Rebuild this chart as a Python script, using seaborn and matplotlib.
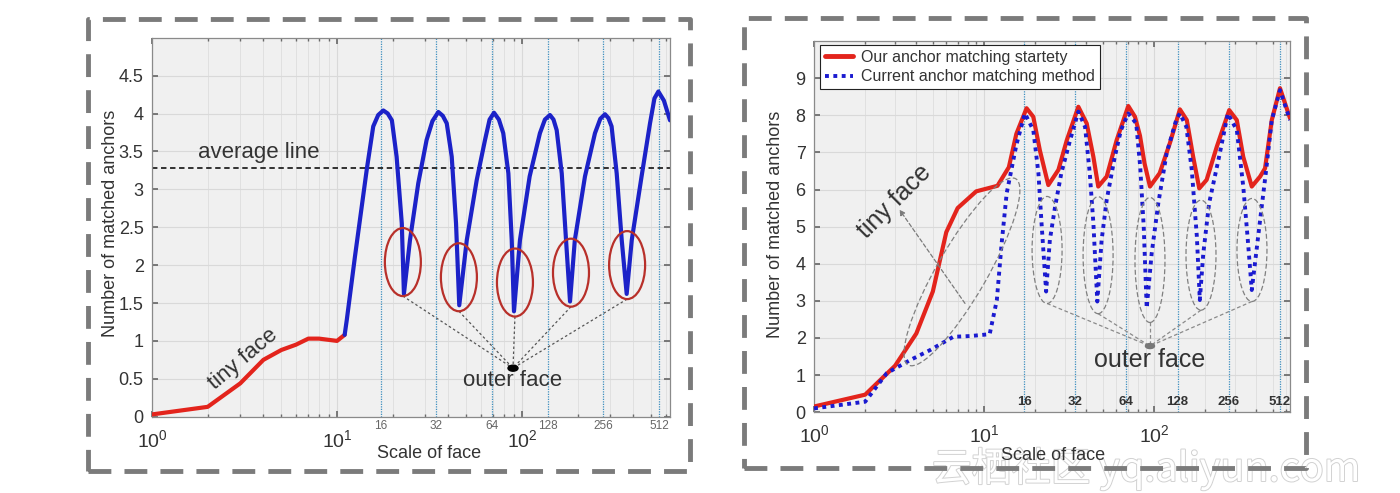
import numpy as np
import matplotlib
matplotlib.use("Agg")
import matplotlib.pyplot as plt
import matplotlib.transforms as mtransforms
import matplotlib.patheffects as pe
from matplotlib.patches import Ellipse, Rectangle
from matplotlib.lines import Line2D
from matplotlib.ticker import FixedLocator, LogLocator, NullFormatter
import seaborn as sns

# ---------------- data ----------------
# left panel: tiny-face segment (red) and the rest (blue)
left_tiny_x = [1, 2, 3, 4, 5, 6, 7, 8, 10, 11]
left_tiny_y = [0.03, 0.13, 0.44, 0.75, 0.88, 0.95, 1.03, 1.03, 1.00, 1.08]
left_main_x = [11, 11.3, 12.5, 14.5, 15.7, 16.7, 17.8, 18.8, 19.8, 21.0, 22.4, 23.0,
               24.8, 27.5, 30.5, 32.8, 35.3, 37.3, 39.2, 41.7, 44, 45.8, 50.3, 56.9,
               63.1, 66.8, 70.6, 75, 79.2, 84.4, 88, 90.5, 97.5, 110, 125, 133, 141.6,
               148, 154, 164, 173, 181.8, 193, 219, 248, 265, 281, 293, 305, 325,
               346, 368, 392, 443, 492, 520, 546, 585, 631]
left_main_y = [1.08, 1.28, 2.11, 3.27, 3.83, 3.98, 4.04, 4.0, 3.91, 3.43, 2.55, 1.62,
               2.33, 3.08, 3.65, 3.9, 4.02, 3.97, 3.87, 3.43, 2.55, 1.47, 2.33, 3.12,
               3.65, 3.92, 4.01, 3.92, 3.74, 3.21, 2.33, 1.39, 2.33, 3.17, 3.74, 3.92, 3.98,
               3.92, 3.78, 3.21, 2.33, 1.52, 2.33, 3.17, 3.74, 3.93, 3.99, 3.94, 3.83, 3.21,
               2.33, 1.62, 2.33, 3.17, 3.87, 4.2, 4.29, 4.17, 3.91]
average_value = 3.28

# right panel
ours_x = [1, 2, 3, 4, 5, 6, 7, 9, 12, 14,
          15.5, 17.8, 19.5, 21.3, 23.9, 27.4, 30.7, 35.9, 40.2, 44,
          47, 52.7, 60.3, 70.6, 77.3, 82.7, 88, 94.7, 108, 124,
          142, 156, 170, 184.6, 204, 234, 277, 307, 335, 376,
          421, 450, 493, 551, 631]
ours_y = [0.15, 0.47, 1.25, 2.12, 3.25, 4.85, 5.5, 5.95, 6.1, 6.6,
          7.5, 8.19, 7.96, 7.06, 6.12, 6.53, 7.33, 8.23, 7.78, 6.88,
          6.08, 6.35, 7.33, 8.25, 7.96, 7.45, 6.7, 6.08, 6.44, 7.25,
          8.16, 7.87, 6.88, 6.03, 6.26, 7.15, 8.14, 7.87, 6.88, 6.08,
          6.35, 6.57, 7.87, 8.73, 7.92]
current_x = [1, 2, 2.68, 3.67, 4.81, 6.6, 8.3, 10.8, 11.9, 12.7,
             13.6, 15.5, 17.4, 19.5, 20.9, 21.8, 23.2, 24.4, 26.2, 28.5,
             32.1, 35.9, 39.3, 41.9, 44, 46.4, 49.2, 52.7, 58.8, 63.9,
             70.6, 78.6, 83, 87, 90.6, 96.9, 106, 118.7, 135, 142,
             155, 166.8, 178.7, 186, 195, 211, 244, 272, 307, 335,
             355, 376, 399, 421, 457, 493, 551, 631]
current_y = [0.1, 0.28, 1.05, 1.40, 1.67, 2.03, 2.05, 2.1, 3.02, 4.55,
             5.9, 7.2, 8.05, 7.6, 6.44, 5.09, 3.25, 4.64, 5.54, 6.44,
             7.33, 8.1, 7.69, 6.44, 5.09, 2.98, 4.64, 5.72, 6.88, 7.6,
             8.05, 7.78, 6.6, 5.0, 2.8, 4.28, 5.63, 6.98, 7.87, 8.05,
             7.69, 6.53, 4.73, 3.02, 4.28, 5.63, 6.98, 8.05, 7.6, 6.08,
             4.73, 3.29, 4.28, 5.18, 6.53, 7.87, 8.68, 7.87]

# anchor-scale reference lines and their labels
anchor_x = [17.2, 34.4, 68.8, 137.6, 275.2, 550.4]
anchor_labels = ["16", "32", "64", "128", "256", "512"]

# annotation anchors
left_ell_x = [22.7, 45.6, 91.6, 184, 370]
left_ell_y = [2.04, 1.84, 1.77, 1.90, 2.00]
right_ell_x = [23.5, 46.9, 94.7, 189, 377]
right_ell_y = [4.37, 4.23, 4.10, 4.23, 4.37]
right_ell_h = [107, 117, 125, 110, 103]

left_yticks = [0, 0.5, 1, 1.5, 2, 2.5, 3, 3.5, 4, 4.5]
left_yticklabels = ["0", "0.5", "1", "1.5", "2", "2.5", "3", "3.5", "4", "4.5"]
right_yticks = [0, 1, 2, 3, 4, 5, 6, 7, 8, 9]
right_yticklabels = [str(v) for v in right_yticks]

legend_labels = ["Our anchor matching startety", "Current anchor matching method"]

# ---------------- styling ----------------
sns.set_theme(style="white")
plt.rcParams["font.family"] = ["Liberation Sans", "Noto Sans CJK SC", "DejaVu Sans"]
plt.rcParams["axes.unicode_minus"] = False

RED = "#e3241c"
BLUE = "#1c22c8"
DOTBLUE = "#1a1ad0"
VLINE = "#3d8fbf"
TXT = "#333333"

fig = plt.figure(figsize=(14, 4.93), dpi=100)
fig.patch.set_facecolor("white")
axL = fig.add_axes([152 / 1400, (493 - 416.7) / 493, 518 / 1400, 379 / 493])
axR = fig.add_axes([814 / 1400, (493 - 412.1) / 493, 476 / 1400, 371 / 493])


def style_axes(ax, ymax, yt, ytl):
    ax.set_xscale("log")
    ax.set_xlim(1, 631)
    ax.set_ylim(0, ymax)
    ax.set_facecolor("#f0f0f0")
    ax.xaxis.set_major_locator(FixedLocator([1, 10, 100]))
    ax.xaxis.set_minor_locator(LogLocator(base=10, subs=np.arange(2, 10), numticks=20))
    ax.xaxis.set_minor_formatter(NullFormatter())
    ax.set_yticks(yt)
    ax.set_yticklabels(ytl)
    ax.grid(True, which="major", color="#d9d9d9", lw=0.8)
    ax.grid(True, which="minor", axis="x", color="#dedede", lw=0.6)
    ax.set_axisbelow(True)
    for s in ax.spines.values():
        s.set_visible(True)
        s.set_color("#8a8a8a")
        s.set_linewidth(0.9)
    ax.tick_params(which="both", direction="in", top=True, right=True,
                   bottom=True, left=True, color="#6a6a6a", labelcolor=TXT)
    ax.tick_params(which="major", length=4, labelsize=13)
    ax.tick_params(which="minor", length=2)
    ax.tick_params(axis="x", which="major", pad=9, labelsize=14)
    ax.tick_params(axis="y", which="major", pad=6)
    for x in anchor_x:
        ax.axvline(x, color=VLINE, lw=0.9, ls=(0, (1, 1)), zorder=1.5)
    ax.set_xlabel("Scale of face", fontsize=13, color=TXT)
    ax.set_ylabel("Number of matched anchors", fontsize=13, color=TXT)


style_axes(axL, 5, left_yticks, left_yticklabels)
style_axes(axR, 10, right_yticks, right_yticklabels)

axL.xaxis.set_label_coords(0.535, -0.075)
axL.yaxis.set_label_coords(-0.064, 0.51)
axR.xaxis.set_label_coords(0.503, -0.095)
axR.yaxis.set_label_coords(-0.064, 0.505)

# ---------------- curves ----------------
sns.lineplot(x=left_tiny_x, y=left_tiny_y, ax=axL, color=RED, lw=3.0,
             estimator=None, sort=False, zorder=3)
sns.lineplot(x=left_main_x, y=left_main_y, ax=axL, color=BLUE, lw=3.0,
             estimator=None, sort=False, zorder=3)
axL.axhline(average_value, color="#222222", lw=1.3, ls=(0, (3, 2)), zorder=2)

sns.lineplot(x=ours_x, y=ours_y, ax=axR, color=RED, lw=3.0,
             estimator=None, sort=False, zorder=3)
sns.lineplot(x=current_x, y=current_y, ax=axR, color=DOTBLUE, lw=2.8,
             estimator=None, sort=False, zorder=4,
             linestyle=(0, (1, 1.15)), dash_capstyle="butt")

# anchor labels
blendL = mtransforms.blended_transform_factory(axL.transData, axL.transAxes)
blendR = mtransforms.blended_transform_factory(axR.transData, axR.transAxes)
for x, lab in zip(anchor_x, anchor_labels):
    axL.text(x, -0.008, lab, transform=blendL, ha="center", va="top",
             fontsize=8.5, color="#666666", clip_on=False)
    axR.text(x, 0.026, lab, transform=blendR, ha="center", va="center",
             fontsize=9.5, color="#333333", fontweight="bold")

# legend
handles = [Line2D([], [], color=RED, lw=3.5),
           Line2D([], [], color=DOTBLUE, lw=2.8, ls=(0, (1, 1.15)), dash_capstyle="butt")]
leg = axR.legend(handles, legend_labels, loc="upper left", bbox_to_anchor=(0.012, 0.99),
                 borderaxespad=0, fontsize=11.5, frameon=True, fancybox=False,
                 framealpha=1, edgecolor="#222222", handlelength=1.8,
                 handletextpad=0.5, borderpad=0.3, labelspacing=0.3)
leg.get_frame().set_linewidth(0.8)
for t in leg.get_texts():
    t.set_color(TXT)


# ---------------- annotations ----------------
def px_ellipse(ax, x, y, w, h, angle=0, **kw):
    tr = mtransforms.ScaledTranslation(x, y, ax.transData)
    e = Ellipse((0, 0), w, h, angle=angle, transform=tr, **kw)
    ax.add_patch(e)
    return e


def px_shift(ax, x, y, dx, dy):
    X, Y = ax.transData.transform((x, y))
    return ax.transData.inverted().transform((X + dx, Y + dy))


# left panel
axL.text(1.77, 3.49, "average line", fontsize=16, color=TXT, ha="left", va="center")
axL.text(3.12, 0.76, "tiny face", fontsize=16, color=TXT, ha="center", va="center", rotation=40)
dotL = (89.4, 0.64)
for x, y in zip(left_ell_x, left_ell_y):
    px_ellipse(axL, x, y, 36, 68, fill=False, ec="#b8302a", lw=1.6, zorder=5)
    bx, by = px_shift(axL, x, y, 0, -34)
    axL.plot([bx, dotL[0]], [by, dotL[1]], color="#555555", lw=0.9, ls=(0, (2, 2)), zorder=4)
px_ellipse(axL, dotL[0], dotL[1], 10, 6, fill=True, fc="black", ec="black", zorder=6)
axL.text(dotL[0], 0.48, "outer face", fontsize=16, color=TXT, ha="center", va="center", zorder=6)

# right panel
axR.text(2.99, 5.67, "tiny face", fontsize=18, color=TXT, ha="center", va="center", rotation=45)
axR.annotate("", xy=(3.18, 5.46), xytext=(7.73, 2.93),
             arrowprops=dict(arrowstyle="-|>", ls=(0, (3, 2)), color="#7a7a7a", lw=0.9,
                             mutation_scale=8, shrinkA=0, shrinkB=0))
px_ellipse(axR, 7.42, 3.78, 215, 50, angle=60, fill=False, ec="#808080", lw=0.9,
           ls=(0, (4, 2)), zorder=5)
dotR = (94.7, 1.78)
for x, y, h in zip(right_ell_x, right_ell_y, right_ell_h):
    px_ellipse(axR, x, y, 30, h, fill=False, ec="#808080", lw=0.9, ls=(0, (4, 2)), zorder=5)
    bx, by = px_shift(axR, x, y, 0, -h / 2)
    axR.plot([bx, dotR[0]], [by, dotR[1]], color="#8a8a8a", lw=0.9, ls=(0, (3, 2)), zorder=4)
px_ellipse(axR, dotR[0], dotR[1], 9, 5, fill=True, fc="#777777", ec="#777777", zorder=6)
axR.text(dotR[0], 1.41, "outer face", fontsize=18, color=TXT, ha="center", va="center", zorder=6)

# ---------------- dashed frames ----------------
for (x0, y0, x1, y1) in [(88, 19, 690, 471), (744, 18, 1306, 468)]:
    r = Rectangle((x0 / 1400, (493 - y1) / 493), (x1 - x0) / 1400, (y1 - y0) / 493,
                  transform=fig.transFigure, fill=False, ec="#7b7b7b", lw=3.5,
                  ls=(0, (4.7, 2.7)), joinstyle="round", capstyle="butt")
    fig.add_artist(r)

# watermark (drawn beneath the axes so the axis label stays on top)
fig.text(932 / 1400, (493 - 481) / 493, "云栖社区 yq.aliyun.com", fontsize=28.5,
         color="white", ha="left", va="baseline",
         family=["Noto Sans CJK SC", "DejaVu Sans"],
         path_effects=[pe.Stroke(linewidth=1.4, foreground="#d2d2d2"), pe.Normal()],
         zorder=-1)

fig.savefig("out.png", dpi=100, facecolor="white")
